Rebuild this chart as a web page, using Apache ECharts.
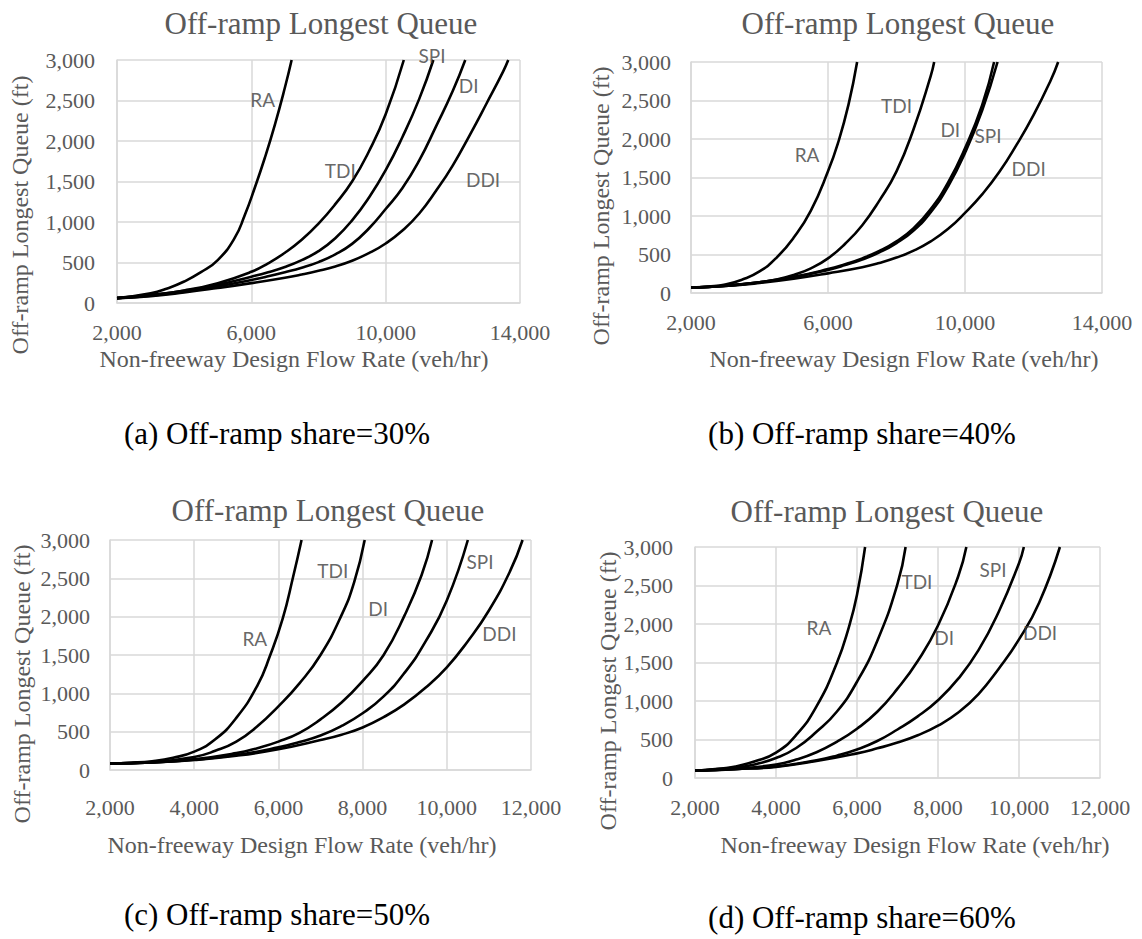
<!DOCTYPE html>
<html>
<head>
<meta charset="utf-8">
<title>Off-ramp Longest Queue</title>
<script src="https://cdn.jsdelivr.net/npm/echarts@6/dist/echarts.min.js"></script>
<style>
  html, body { margin: 0; padding: 0; background: #ffffff; }
  #chart { width: 1142px; height: 939px; }
</style>
</head>
<body>
<div id="chart"></div>
<script>
// ---- Data: [flow rate (veh/hr), longest queue (ft)] per interchange type ----
// (a) off-ramp share 30%
const share30_RA  = [[2000,60],[3000,120],[3500,180],[4000,265],[4500,380],[5000,530],[5500,800],[5800,1080],[6100,1420],[6400,1790],[6700,2200],[7000,2660],[7200,3000]];
const share30_TDI = [[2000,60],[3000,100],[4000,155],[5000,245],[6000,385],[6500,490],[7000,620],[7500,780],[8000,980],[8500,1220],[9000,1500],[9500,1870],[10000,2330],[10540,3000]];
const share30_SPI = [[2000,60],[3000,95],[4000,150],[5000,225],[6000,325],[6500,380],[7000,445],[7500,530],[8000,640],[8500,800],[9000,1020],[9500,1300],[10000,1640],[10500,2050],[11000,2520],[11420,3000]];
const share30_DI  = [[2000,60],[3000,90],[4000,140],[5000,205],[6000,285],[6500,330],[7000,380],[7500,435],[8000,505],[8500,600],[9000,730],[9500,920],[10000,1160],[10500,1420],[11000,1760],[11500,2180],[12000,2620],[12370,3000]];
const share30_DDI = [[2000,60],[3000,85],[4000,130],[5000,185],[6000,245],[7000,312],[7500,352],[8000,398],[8500,452],[9000,522],[9500,615],[10000,735],[10500,895],[11000,1105],[11500,1385],[12000,1700],[12500,2070],[13000,2460],[13500,2860],[13650,3000]];

// (b) off-ramp share 40%
const share40_RA  = [[2000,70],[2500,85],[3000,110],[3500,175],[4000,280],[4500,460],[5000,720],[5500,1070],[6000,1580],[6300,1960],[6600,2450],[6850,3000]];
const share40_TDI = [[2000,70],[3000,95],[4000,140],[4500,175],[5000,235],[5500,320],[6000,450],[6500,640],[7000,880],[7500,1200],[8000,1580],[8500,2130],[9000,2820],[9100,3000]];
const share40_DI  = [[2000,70],[3000,95],[4000,140],[5000,210],[6000,310],[6500,375],[7000,450],[7500,545],[8000,670],[8500,840],[9000,1090],[9500,1430],[10000,1880],[10500,2440],[10850,3000]];
const share40_SPI = [[2000,70],[3000,93],[4000,138],[5000,205],[6000,300],[6500,362],[7000,435],[7500,527],[8000,648],[8500,812],[9000,1050],[9500,1380],[10000,1820],[10500,2370],[10950,3000]];
const share40_DDI = [[2000,70],[3000,90],[4000,130],[5000,185],[6000,255],[7000,335],[7500,390],[8000,460],[8500,550],[9000,670],[9500,830],[10000,1040],[10500,1280],[11000,1570],[11500,1920],[12000,2310],[12500,2760],[12720,3000]];

// (c) off-ramp share 50%
const share50_RA  = [[2000,85],[2500,95],[3000,115],[3500,160],[4000,240],[4500,400],[5000,680],[5500,1100],[5800,1490],[6100,1970],[6350,2520],[6550,3000]];
const share50_TDI = [[2000,85],[3000,105],[4000,170],[4500,250],[5000,370],[5500,570],[6000,830],[6500,1130],[7000,1500],[7500,2020],[7800,2450],[8050,3000]];
const share50_DI  = [[2000,85],[3000,100],[4000,140],[5000,220],[5500,285],[6000,370],[6500,485],[7000,660],[7500,880],[8000,1160],[8500,1500],[9000,2020],[9400,2540],[9650,3000]];
const share50_SPI = [[2000,85],[3000,100],[4000,135],[5000,195],[6000,295],[6500,365],[7000,450],[7500,575],[8000,740],[8500,960],[9000,1270],[9500,1680],[10000,2210],[10500,3000]];
const share50_DDI = [[2000,85],[3000,100],[4000,130],[5000,185],[6000,270],[7000,390],[7500,460],[8000,555],[8500,690],[9000,860],[9500,1075],[10000,1340],[10500,1680],[11000,2080],[11500,2590],[11800,3000]];

// (d) off-ramp share 60%
const share60_RA  = [[2000,95],[2500,115],[3000,150],[3500,220],[4000,330],[4500,560],[5000,930],[5500,1490],[5800,1960],[6000,2380],[6200,3000]];
const share60_TDI = [[2000,95],[3000,135],[3500,180],[4000,260],[4500,390],[5000,600],[5500,860],[6000,1250],[6500,1780],[7000,2520],[7200,3000]];
const share60_DI  = [[2000,95],[3000,120],[4000,175],[4500,240],[5000,335],[5500,470],[6000,640],[6500,860],[7000,1160],[7500,1520],[8000,1980],[8500,2620],[8700,3000]];
const share60_SPI = [[2000,95],[3000,115],[4000,150],[5000,230],[5500,290],[6000,370],[6500,480],[7000,630],[7500,800],[8000,1010],[8500,1290],[9000,1660],[9500,2160],[10000,2790],[10120,3000]];
const share60_DDI = [[2000,95],[3000,115],[4000,145],[5000,220],[6000,320],[6500,385],[7000,460],[7500,555],[8000,680],[8500,850],[9000,1090],[9500,1420],[10000,1800],[10500,2280],[11010,3000]];

// Axis ticks
const queueTicks = { min: 0, max: 3000, step: 500 };
const flowTicksWide = { min: 2000, max: 14000, step: 4000 };
const flowTicksNarrow = { min: 2000, max: 12000, step: 2000 };

// Texts
const chartTitle = 'Off-ramp Longest Queue';
const xTitle = 'Non-freeway Design Flow Rate (veh/hr)';
const yTitle = 'Off-ramp Longest Queue (ft)';
const captions = ['(a) Off-ramp share=30%', '(b) Off-ramp share=40%', '(c) Off-ramp share=50%', '(d) Off-ramp share=60%'];

// Curve name tags, anchored in data units [flow, queue]
const tags30 = [['RA',6340,2510],['TDI',8650,1640],['SPI',11380,3060],['DI',12470,2680],['DDI',12900,1520]];
const tags40 = [['RA',5390,1800],['TDI',8000,2430],['DI',9570,2120],['SPI',10670,2050],['DDI',11860,1620]];
const tags50 = [['RA',5440,1710],['TDI',7290,2600],['DI',8370,2110],['SPI',10790,2720],['DDI',11250,1780]];
const tags60 = [['RA',5060,1950],['TDI',7480,2550],['DI',8150,1830],['SPI',9360,2710],['DDI',10520,1890]];

// ---- Layout / style ----
const SERIF = '"Liberation Serif", "Times New Roman", serif';
const SANS = 'Lato, "Open Sans", sans-serif';
const GREY = '#595959';
const GRID_LINE = '#d9d9d9';

const panels = [
  { grid: { left: 117, top: 60, width: 403, height: 243 }, flow: flowTicksWide, xMargin: 18, yMargin: 22,
    curves: [share30_RA, share30_TDI, share30_SPI, share30_DI, share30_DDI], tags: tags30,
    title: [321, 23], xName: [294, 359], yName: [20, 215], caption: [277, 433] },
  { grid: { left: 691, top: 62, width: 411, height: 231 }, flow: flowTicksWide, xMargin: 18, yMargin: 20,
    curves: [share40_RA, share40_TDI, share40_DI, share40_SPI, share40_DDI], tags: tags40,
    title: [898, 23], xName: [904, 359], yName: [601, 206], caption: [862, 433] },
  { grid: { left: 110, top: 540, width: 421, height: 230 }, flow: flowTicksNarrow, xMargin: 26, yMargin: 20,
    curves: [share50_RA, share50_TDI, share50_DI, share50_SPI, share50_DDI], tags: tags50,
    title: [328, 510], xName: [302, 845], yName: [22, 684], caption: [277, 914] },
  { grid: { left: 695, top: 547, width: 405, height: 231 }, flow: flowTicksNarrow, xMargin: 18, yMargin: 22,
    curves: [share60_RA, share60_TDI, share60_DI, share60_SPI, share60_DDI], tags: tags60,
    title: [887, 511], xName: [915, 845], yName: [608, 691], caption: [862, 917] }
];

const fmt = v => v.toLocaleString('en-US');

const grids = [], xAxes = [], yAxes = [], series = [], graphics = [];

function textEl(text, pos, font, fill, rotation) {
  return {
    type: 'text', x: pos[0], y: pos[1], rotation: rotation || 0, silent: true,
    style: { text: text, font: font, fill: fill,
             align: 'center', verticalAlign: 'middle',
             textAlign: 'center', textVerticalAlign: 'middle' }
  };
}

panels.forEach((p, i) => {
  grids.push(Object.assign({ containLabel: false }, p.grid));
  xAxes.push({
    type: 'value', gridIndex: i, min: p.flow.min, max: p.flow.max, interval: p.flow.step,
    axisLine: { show: true, lineStyle: { color: GRID_LINE, width: 1.5 } },
    axisTick: { show: false },
    splitLine: { show: true, lineStyle: { color: GRID_LINE, width: 1.5 } },
    axisLabel: { margin: p.xMargin, color: GREY, fontFamily: SERIF, fontSize: 22, formatter: fmt }
  });
  yAxes.push({
    type: 'value', gridIndex: i, min: queueTicks.min, max: queueTicks.max, interval: queueTicks.step,
    axisLine: { show: true, lineStyle: { color: GRID_LINE, width: 1.5 } },
    axisTick: { show: false },
    splitLine: { show: true, lineStyle: { color: GRID_LINE, width: 1.5 } },
    axisLabel: { margin: p.yMargin, color: GREY, fontFamily: SERIF, fontSize: 22, formatter: fmt }
  });
  p.curves.forEach(data => {
    series.push({
      type: 'line', xAxisIndex: i, yAxisIndex: i, data: data,
      smooth: 0.5, showSymbol: false, symbol: 'none',
      lineStyle: { color: '#000000', width: 2.6 }, silent: true, z: 3
    });
  });
  series.push({
    type: 'scatter', xAxisIndex: i, yAxisIndex: i, clip: false, silent: true,
    symbolSize: 0, z: 5,
    data: p.tags.map(t => ({ name: t[0], value: [t[1], t[2]] })),
    label: { show: true, position: 'inside', formatter: '{b}',
             color: '#404040', fontFamily: SANS, fontSize: 19 }
  });
  graphics.push(textEl(chartTitle, p.title, '31px ' + SERIF, GREY));
  graphics.push(textEl(xTitle, p.xName, '24px ' + SERIF, GREY));
  graphics.push(textEl(yTitle, p.yName, '24px ' + SERIF, GREY, Math.PI / 2));
  graphics.push(textEl(captions[i], p.caption, '31px ' + SERIF, '#000000'));
});

const chart = echarts.init(document.getElementById('chart'), null, { renderer: 'svg' });
chart.setOption({
  animation: false,
  backgroundColor: '#ffffff',
  grid: grids,
  xAxis: xAxes,
  yAxis: yAxes,
  series: series,
  graphic: { elements: graphics }
});
</script>
</body>
</html>
